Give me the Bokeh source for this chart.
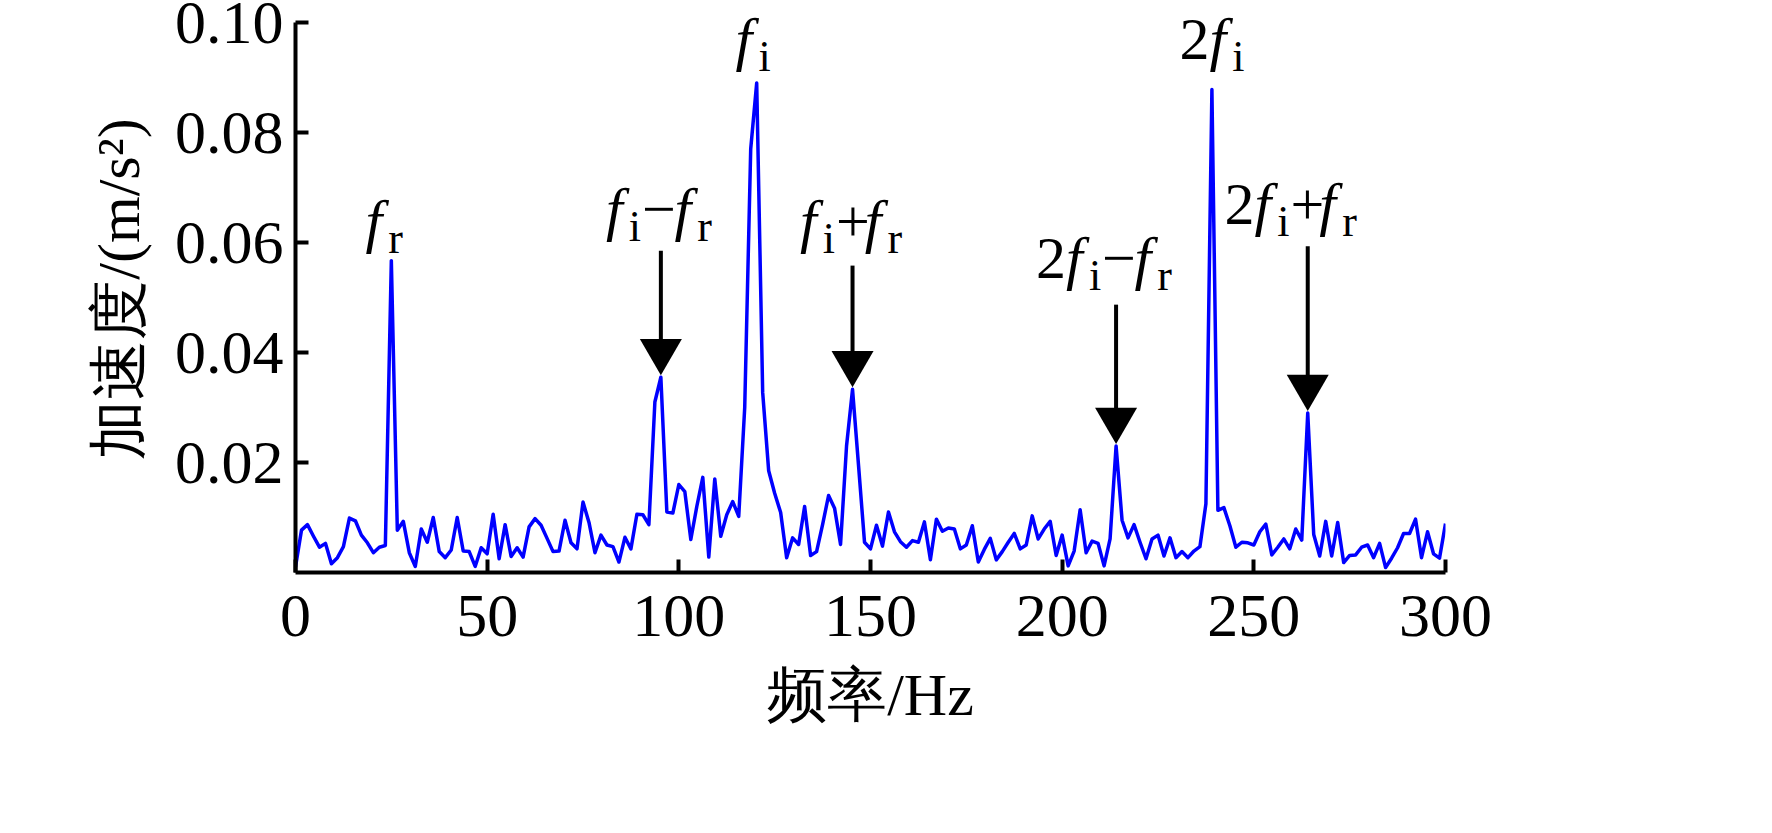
from bokeh.plotting import figure
from bokeh.models import FixedTicker, Range1d, NumeralTickFormatter, ColumnDataSource, LabelSet
from bokeh.core.properties import value
from bokeh.embed import file_html
from bokeh.resources import INLINE

# ---------------- data ----------------
amp = [
    0.0010, 0.0077, 0.0087, 0.0066, 0.0046, 0.0053, 0.0016, 0.0027, 0.0047, 0.0099,
    0.0094, 0.0068, 0.0054, 0.0036, 0.0046, 0.0049, 0.0567, 0.0077, 0.0093, 0.0036,
    0.0011, 0.0079, 0.0055, 0.0100, 0.0038, 0.0027, 0.0041, 0.0100, 0.0039, 0.0038,
    0.0011, 0.0045, 0.0034, 0.0106, 0.0025, 0.0087, 0.0029, 0.0045, 0.0028, 0.0083,
    0.0098, 0.0086, 0.0062, 0.0038, 0.0039, 0.0095, 0.0054, 0.0043, 0.0128, 0.0091,
    0.0036, 0.0068, 0.0050, 0.0047, 0.0019, 0.0064, 0.0043, 0.0106, 0.0105, 0.0087,
    0.0310, 0.0355, 0.0110, 0.0108, 0.0160, 0.0147, 0.0060, 0.0120, 0.0173, 0.0028,
    0.0170, 0.0066, 0.0105, 0.0129, 0.0102, 0.0300, 0.0770, 0.0890, 0.0327, 0.0185,
    0.0144, 0.0109, 0.0027, 0.0063, 0.0051, 0.0120, 0.0031, 0.0038, 0.0087, 0.0140,
    0.0117, 0.0051, 0.0230, 0.0333, 0.0195, 0.0055, 0.0043, 0.0086, 0.0048, 0.0110,
    0.0074, 0.0056, 0.0046, 0.0058, 0.0055, 0.0092, 0.0023, 0.0097, 0.0075, 0.0081,
    0.0079, 0.0043, 0.0050, 0.0085, 0.0019, 0.0042, 0.0062, 0.0023, 0.0038, 0.0055,
    0.0071, 0.0043, 0.0050, 0.0103, 0.0061, 0.0079, 0.0093, 0.0031, 0.0068, 0.0012,
    0.0039, 0.0114, 0.0036, 0.0057, 0.0053, 0.0012, 0.0061, 0.0230, 0.0095, 0.0063,
    0.0087, 0.0055, 0.0025, 0.0061, 0.0068, 0.0030, 0.0063, 0.0027, 0.0038, 0.0027,
    0.0039, 0.0047, 0.0125, 0.0878, 0.0113, 0.0118, 0.0085, 0.0046, 0.0055, 0.0054,
    0.0050, 0.0074, 0.0088, 0.0032, 0.0046, 0.0061, 0.0043, 0.0079, 0.0059, 0.0290,
    0.0069, 0.0030, 0.0093, 0.0030, 0.0091, 0.0018, 0.0031, 0.0032, 0.0046, 0.0050,
    0.0027, 0.0053, 0.0009, 0.0026, 0.0045, 0.0071, 0.0071, 0.0097, 0.0027, 0.0074,
    0.0034, 0.0026, 0.0089,
]
df = 1.5625  # frequency resolution, Hz
freq = [i * df for i in range(len(amp))]

x_ticks = [0, 50, 100, 150, 200, 250, 300]
y_ticks = [0.02, 0.04, 0.06, 0.08, 0.10]

x_label = "频率/Hz"
y_label = "加速度/(m/s²)"

# annotated peaks (index into amp) and arrow tail heights
arrow_idx = [61, 93, 137, 169]
arrow_tail = [0.0585, 0.0558, 0.0487, 0.0593]

# peak labels: runs of (text, kind), label centre frequency and baseline value
label_runs = [
    [("f", "it"), ("r", "sub")],
    [("f", "it"), ("i", "sub"), ("\u2212", "op"), ("f", "it"), ("r", "sub")],
    [("f", "it"), ("i", "sub")],
    [("f", "it"), ("i", "sub"), ("+", "op"), ("f", "it"), ("r", "sub")],
    [("2", "op"), ("f", "it"), ("i", "sub"), ("\u2212", "op"), ("f", "it"), ("r", "sub")],
    [("2", "op"), ("f", "it"), ("i", "sub")],
    [("2", "op"), ("f", "it"), ("i", "sub"), ("+", "op"), ("f", "it"), ("r", "sub")],
]
label_x = [23.5, 95.2, 119.5, 145.3, 211.3, 239.2, 260.0]
label_y = [0.0602, 0.0624, 0.0933, 0.0602, 0.0536, 0.0933, 0.0633]

# ---------------- layout ----------------
PX_PER_UNIT = 5500          # vertical pixels per 1.0 of acceleration
FW, FH = 1150, 567
XMAX = 300
YAX = 0.10                  # top of the drawn y axis
YMAX = FH / PX_PER_UNIT     # range extends a little above the axis for the labels
dy_px = 1 / PX_PER_UNIT

FONT = "Liberation Serif"
MAIN = 60
SUB = 44
TICK_FONT = 62

p = figure(
    frame_width=FW, frame_height=FH,
    x_range=Range1d(0, XMAX), y_range=Range1d(0, YMAX),
    output_backend="svg", toolbar_location=None,
    min_border_left=295, min_border_right=311,
    min_border_top=5, min_border_bottom=245,
)
p.outline_line_color = None
p.xgrid.visible = False
p.ygrid.visible = False
p.background_fill_color = "white"
p.border_fill_color = "white"

for ax in (p.xaxis[0], p.yaxis[0]):
    ax.axis_line_width = 4
    ax.axis_line_color = "black"
    ax.major_tick_line_width = 4
    ax.major_tick_line_color = "black"
    ax.major_tick_in = 13
    ax.major_tick_out = 0
    ax.minor_tick_line_color = None
    ax.major_label_text_font = FONT
    ax.major_label_text_font_size = f"{TICK_FONT}px"
    ax.major_label_text_color = "black"
    ax.axis_label_text_font = FONT
    ax.axis_label_text_font_size = "60px"
    ax.axis_label_text_font_style = "normal"
    ax.axis_label_text_color = "black"

p.yaxis.bounds = (0, YAX)
p.xaxis.ticker = FixedTicker(ticks=x_ticks)
p.yaxis.ticker = FixedTicker(ticks=y_ticks)
p.yaxis.formatter = NumeralTickFormatter(format="0.00")
p.xaxis.axis_label = x_label
p.yaxis.axis_label = y_label
p.xaxis.major_label_standoff = 23
p.yaxis.major_label_standoff = 12
p.xaxis.axis_label_standoff = 23
p.yaxis.axis_label_standoff = 20

# spectrum line
p.line(freq, amp, line_color="#0000FF", line_width=3.5, line_join="round")

# arrows
HEAD = 42
tip_y = [amp[i] + 2 * dy_px for i in arrow_idx]
head_cy = [t + 0.577 * HEAD * dy_px for t in tip_y]
ax_x = [freq[i] for i in arrow_idx]
p.segment(x0=ax_x, y0=arrow_tail, x1=ax_x, y1=head_cy, line_color="black", line_width=4)
p.scatter(x=ax_x, y=head_cy, marker="inverted_triangle", size=HEAD,
          fill_color="black", line_color="black", line_width=0)

# labels
SUB_SHIFT = 12  # px

def run_width(txt, kind):
    if kind == "it":
        return 0.38 * MAIN
    if kind == "sub":
        return {"i": 0.30, "r": 0.40}[txt] * SUB
    if txt == "2":
        return 0.50 * MAIN
    if txt == "+":
        return 0.48 * MAIN
    return 0.54 * MAIN

groups = {"it": dict(x=[], y=[], t=[], o=[]),
          "sub": dict(x=[], y=[], t=[], o=[]),
          "op": dict(x=[], y=[], t=[], o=[])}
for runs, lx, ly in zip(label_runs, label_x, label_y):
    total = sum(run_width(t, k) for t, k in runs)
    off = -total / 2
    for t, k in runs:
        g = groups[k]
        g["x"].append(lx)
        g["y"].append(ly - (SUB_SHIFT * dy_px if k == "sub" else 0))
        g["t"].append(t)
        g["o"].append(off)
        off += run_width(t, k)

styles = {"it": ("italic", MAIN), "sub": ("normal", SUB), "op": ("normal", MAIN)}
for k, g in groups.items():
    src = ColumnDataSource(dict(x=g["x"], y=g["y"], text=g["t"], xo=g["o"]))
    st, sz = styles[k]
    ls = LabelSet(x="x", y="y", text="text", x_offset="xo", source=src,
                  text_font=value(FONT), text_font_style=st, text_font_size=f"{sz}px",
                  text_align="left", text_baseline="alphabetic", text_color="black")
    p.add_layout(ls)

open("out.html", "w").write(file_html(p, INLINE))
